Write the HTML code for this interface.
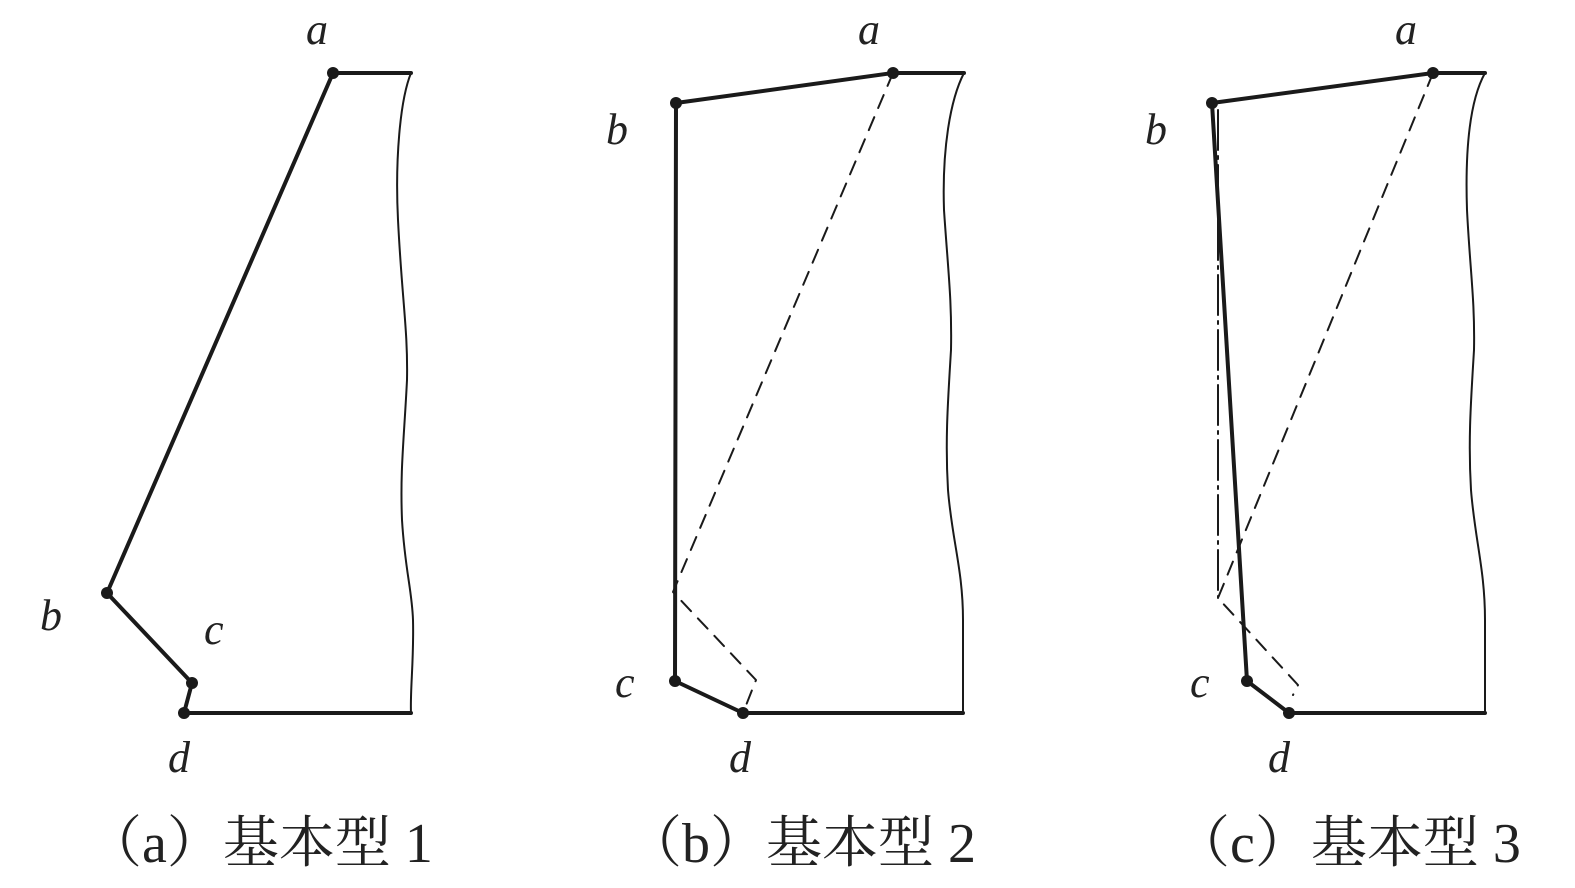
<!DOCTYPE html>
<html><head><meta charset="utf-8"><style>
html,body{margin:0;padding:0;background:#fff;}
svg{display:block;}
.l{font-family:"Liberation Serif",serif;font-style:italic;font-size:44px;fill:#222;}
.cap{font-family:"Liberation Serif","Noto Serif CJK SC",serif;font-size:56px;fill:#222;}
</style></head><body>
<svg width="1575" height="888" viewBox="0 0 1575 888" xmlns="http://www.w3.org/2000/svg">
<g fill="none" stroke="#1a1a1a" stroke-linejoin="round" stroke-linecap="round">
<polyline points="411,73 333,73 107,593 192,683 184,713 411,713" stroke-width="4"/>
<path d="M411,73 C400,100 395,160 398,220 C402,300 408,330 407,380 C404,440 400,470 402,520 C405,570 412,590 413,620 C414,660 410,690 411,713" stroke-width="2"/>
<polyline points="964,73 893,73 676,103 675,681 743,713 963,713" stroke-width="4"/>
<path d="M964,73 C950,100 942,150 944,210 C948,270 952,300 951,350 C948,400 945,440 948,490 C952,540 963,570 963,620 C963,660 963,690 963,713" stroke-width="2"/>
<polyline points="893,73 673,592 756,680 743,713" stroke-width="2" stroke-dasharray="14,10"/>
<polyline points="1485,73 1433,73 1212,103 1247,681 1289,713 1485,713" stroke-width="4"/>
<path d="M1485,73 C1470,100 1465,150 1467,210 C1470,270 1475,300 1474,350 C1471,400 1468,440 1471,490 C1475,540 1485,570 1485,620 C1485,660 1485,690 1485,713" stroke-width="2"/>
<polyline points="1433,73 1218,598 1298,685 1293,695" stroke-width="2" stroke-dasharray="14,10"/>
<line x1="1218" y1="110" x2="1218" y2="598" stroke-width="2" stroke-dasharray="40,6,3,6"/>
</g>
<g fill="#1a1a1a">
<circle cx="333" cy="73" r="6"/><circle cx="107" cy="593" r="6"/><circle cx="192" cy="683" r="6"/><circle cx="184" cy="713" r="6"/>
<circle cx="893" cy="73" r="6"/><circle cx="676" cy="103" r="6"/><circle cx="675" cy="681" r="6"/><circle cx="743" cy="713" r="6"/>
<circle cx="1433" cy="73" r="6"/><circle cx="1212" cy="103" r="6"/><circle cx="1247" cy="681" r="6"/><circle cx="1289" cy="713" r="6"/>
</g>
<text class="l" x="306" y="44">a</text>
<text class="l" x="40" y="630">b</text>
<text class="l" x="204" y="644">c</text>
<text class="l" x="168" y="772">d</text>
<text class="l" x="858" y="44">a</text>
<text class="l" x="606" y="144">b</text>
<text class="l" x="615" y="697">c</text>
<text class="l" x="729" y="772">d</text>
<text class="l" x="1395" y="44">a</text>
<text class="l" x="1145" y="144">b</text>
<text class="l" x="1190" y="697">c</text>
<text class="l" x="1268" y="772">d</text>
<text class="cap" x="86" y="862">（a）基本型 1</text>
<text class="cap" x="626" y="862">（b）基本型 2</text>
<text class="cap" x="1174" y="862">（c）基本型 3</text>
</svg>
</body></html>
